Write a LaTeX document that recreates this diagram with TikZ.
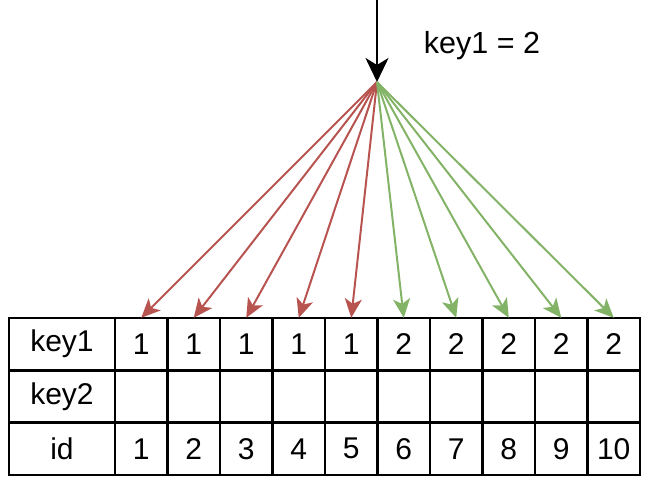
\documentclass[tikz,border=0pt]{standalone}
\usepackage{fontspec}
\setmainfont{Liberation Sans}
\usetikzlibrary{arrows.meta}
\definecolor{redarrow}{HTML}{B85450}
\definecolor{greenarrow}{HTML}{82B366}
\begin{document}
\begin{tikzpicture}[x=1pt,y=-1pt,
  cellbox/.style={draw=black, line width=2.5pt, minimum height=52.3pt, inner sep=0pt, font=\fontsize{30}{36}\selectfont},
  headbox/.style={cellbox, minimum width=106pt},
  databox/.style={cellbox, minimum width=52.5pt},
  redconn/.style={draw=redarrow, line width=2pt, -{Stealth[length=19pt,width=17pt,inset=5pt]}},
  greenconn/.style={draw=greenarrow, line width=2pt, -{Stealth[length=19pt,width=17pt,inset=5pt]}},
  mainconn/.style={draw=black, line width=2.5pt, -{Stealth[length=24pt,width=23pt,inset=7pt]}},
  labeltext/.style={font=\fontsize{30.5}{36}\selectfont, inner sep=0pt}
]
\useasboundingbox (0,0) rectangle (649,486);
% header column
\node[headbox] (h1) at (62,344.2) {key1};
\node[headbox] (h2) at (62,396.5) {key2};
\node[headbox] (h3) at (62,448.8) {id};
% data columns
\foreach \i/\k in {1/1,2/1,3/1,4/1,5/1,6/2,7/2,8/2,9/2,10/2}{
  \node[databox] (a\i) at ({115+52.5*(\i-0.5)},344.2) {\k};
  \node[databox] (b\i) at ({115+52.5*(\i-0.5)},396.5) {};
  \node[databox] (c\i) at ({115+52.5*(\i-0.5)},448.8) {\i};
}
% source and apex
\coordinate (src) at (377,0);
\coordinate (apex) at (377,82);
\draw[mainconn] (src) -- (apex);
\node[labeltext] (lbl) at (482,46) {key1 = 2};
\foreach \i in {1,...,5}{
  \draw[redconn] (apex) -- ([yshift=-1pt]a\i.north);
}
\foreach \i in {6,...,10}{
  \draw[greenconn] (apex) -- ([yshift=-1pt]a\i.north);
}
\end{tikzpicture}
\end{document}
